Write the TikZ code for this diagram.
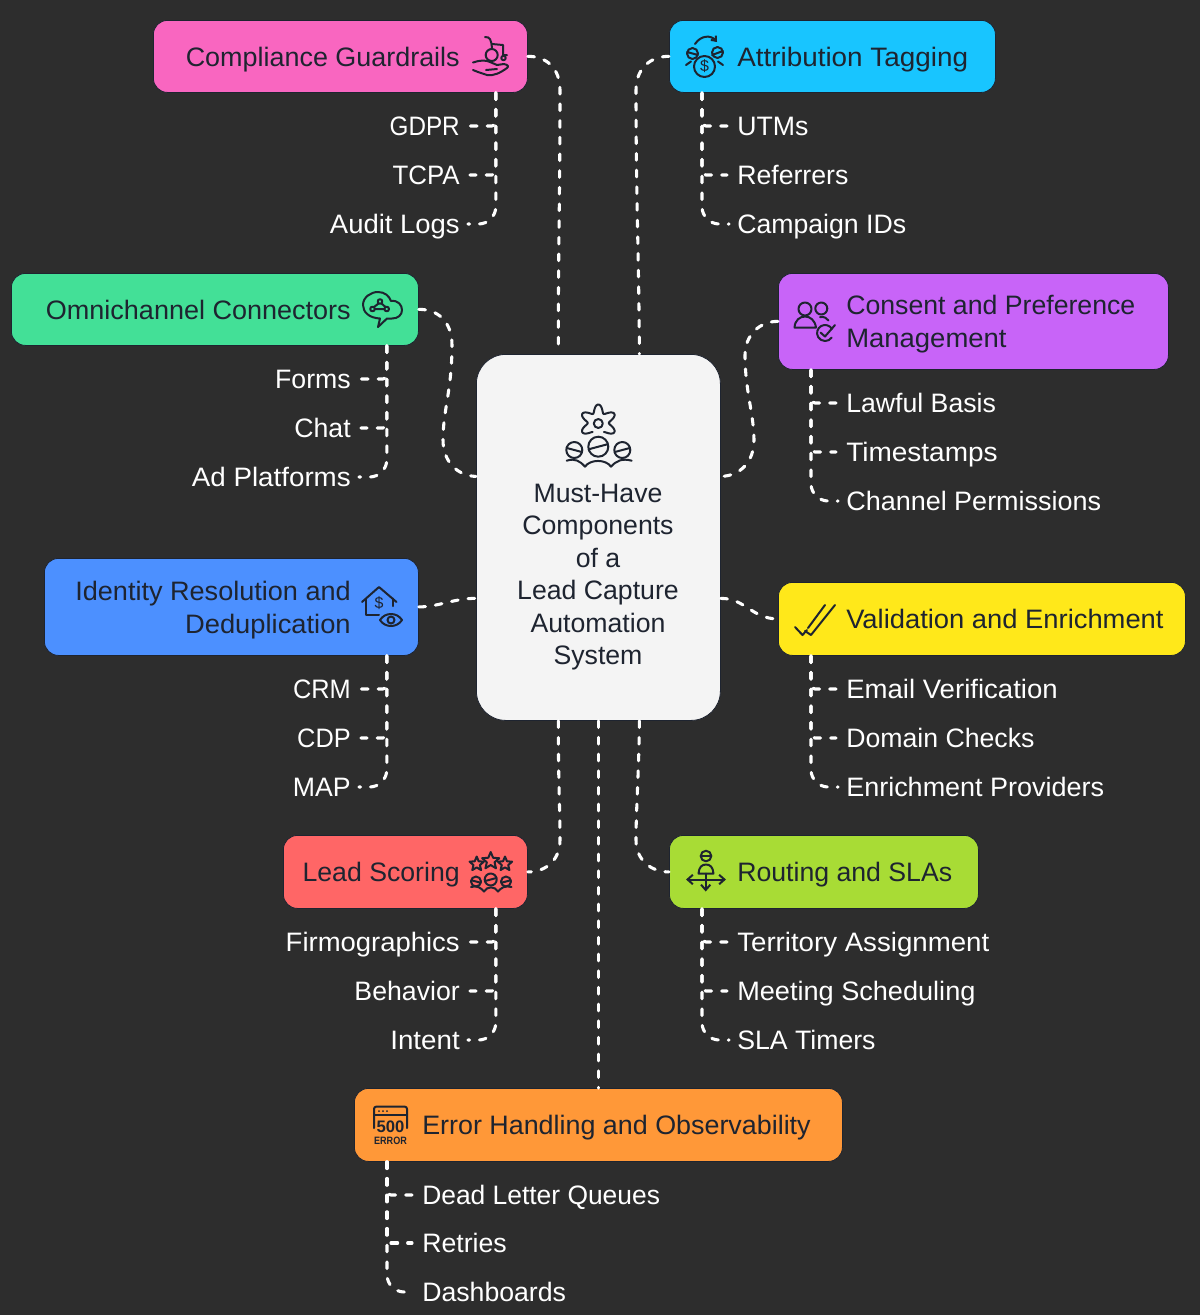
\documentclass[tikz,border=0pt]{standalone}
\usepackage{graphicx}
\usepackage{fontspec}
\setmainfont{Liberation Sans}
\usetikzlibrary{calc,arrows.meta}
\definecolor{bgc}{HTML}{2D2D2D}
\definecolor{inkc}{HTML}{1E2430}
\definecolor{cgc}{HTML}{F966C0}
\definecolor{atc}{HTML}{18C5FF}
\definecolor{omc}{HTML}{43E097}
\definecolor{coc}{HTML}{C864F8}
\definecolor{idc}{HTML}{4C90FF}
\definecolor{vac}{HTML}{FFE81A}
\definecolor{lsc}{HTML}{FF6666}
\definecolor{roc}{HTML}{A8DC35}
\definecolor{erc}{HTML}{FF9838}
\definecolor{hubc}{HTML}{F4F4F4}
\tikzset{
  x=0.75pt,y=-0.75pt,
  boxst/.style={draw=inkc,line width=0.6pt,rounded corners=10.5pt,inner sep=0,anchor=north west},
  boxtxt/.style={inner sep=0,text=inkc,font=\fontsize{20}{24.4}\selectfont},
  onel/.style={boxtxt,text height=14.5pt,text depth=0pt},
  leaf/.style={inner sep=0,text=white,font=\fontsize{20}{24.4}\selectfont,text height=14.5pt,text depth=0pt},
  link/.style={draw=white,line width=2.3pt,line cap=round,dash pattern=on 5pt off 7.5pt},
  near/.style={link,rounded corners=3pt,shorten >=7.5pt},
  far/.style={link,rounded corners=13pt,shorten >=6pt},
  ic/.style={draw=inkc,line width=1.5pt,line cap=round,line join=round},
}
\newcommand{\sx}[2]{\scalebox{#1}[1]{#2}}
\newcommand{\mybox}[6]{\node[boxst,fill=#2,minimum width=#5*0.75pt-#3*0.75pt,minimum height=#6*0.75pt-#4*0.75pt] (#1) at (#3,#4) {};}
\newcommand{\myhead}[4]{%
  \draw[ic] (#1,#2) circle[radius=#3];
  \draw[ic] ($(#1,#2)+(180+#4:#3)$) -- ($(#1,#2)+(#4:#3)$);}
\newcommand{\mystar}[3]{%
  \draw[ic] plot[samples at={0,...,10}] ({#1+(mod(\x,2)==0?#3:#3*0.45)*sin(\x*36)},{#2-(mod(\x,2)==0?#3:#3*0.45)*cos(\x*36)});}
\begin{document}
\begin{tikzpicture}
\useasboundingbox (0,0) rectangle (1200,1315);
\fill[bgc] (0,0) rectangle (1200,1315);

% boxes
\mybox{cg}{cgc}{153}{20}{527}{92}
\mybox{at}{atc}{669}{20}{995}{92}
\mybox{om}{omc}{11}{273}{418}{345}
\mybox{co}{coc}{778}{273}{1168}{369}
\mybox{idr}{idc}{44}{558}{418}{655}
\mybox{va}{vac}{778}{582}{1185}{655}
\mybox{ls}{lsc}{283}{835}{527}{908}
\mybox{ro}{roc}{669}{835}{978}{908}
\mybox{er}{erc}{354}{1088}{842}{1161}
\node[draw=inkc,line width=0.6pt,fill=hubc,rounded corners=22pt,inner sep=0,anchor=north west,minimum width=183pt,minimum height=274.5pt] (hub) at (476,354) {};

% box texts
\node[onel,anchor=east] (tcg) at (460,56.5) {\sx{1.01}{Compliance Guardrails}};
\node[onel,anchor=west] (tat) at (737,56.5) {\sx{1.045}{Attribution Tagging}};
\node[onel,anchor=east] (tom) at (351,309.5) {\sx{1.013}{Omnichannel Connectors}};
\node[boxtxt,anchor=west,align=left] (tco) at (846,324) {Consent and Preference\\\sx{1.03}{Management}};
\node[boxtxt,anchor=east,align=right] (tid) at (351,610) {\sx{1.015}{Identity Resolution and}\\\sx{1.025}{Deduplication}};
\node[onel,anchor=west] (tva) at (846,619) {\sx{1.026}{Validation and Enrichment}};
\node[onel,anchor=east] (tls) at (460,872) {Lead Scoring};
\node[onel,anchor=west] (tro) at (737,872) {Routing and SLAs};
\node[onel,anchor=west] (ter) at (422,1125) {\sx{1.008}{Error Handling and Observability}};
\node[boxtxt,align=center] (thub) at (598,577) {Must-Have\\Components\\of a\\Lead Capture\\Automation\\System};

% leaves
\node[leaf,anchor=east] (l1a) at (460,126) {\sx{0.91}{GDPR}};
\node[leaf,anchor=east] (l1b) at (460,175) {\sx{0.97}{TCPA}};
\node[leaf,anchor=east] (l1c) at (460,224) {\sx{1.03}{Audit Logs}};
\node[leaf,anchor=west] (l2a) at (737,126) {UTMs};
\node[leaf,anchor=west] (l2b) at (737,175) {Referrers};
\node[leaf,anchor=west] (l2c) at (737,224) {Campaign IDs};
\node[leaf,anchor=east] (l3a) at (351,379) {Forms};
\node[leaf,anchor=east] (l3b) at (351,428) {Chat};
\node[leaf,anchor=east] (l3c) at (351,477) {\sx{1.04}{Ad Platforms}};
\node[leaf,anchor=west] (l4a) at (846,403) {Lawful Basis};
\node[leaf,anchor=west] (l4b) at (846,452) {\sx{1.05}{Timestamps}};
\node[leaf,anchor=west] (l4c) at (846,501) {\sx{1.012}{Channel Permissions}};
\node[leaf,anchor=east] (l5a) at (351,689) {\sx{0.95}{CRM}};
\node[leaf,anchor=east] (l5b) at (351,738) {\sx{0.95}{CDP}};
\node[leaf,anchor=east] (l5c) at (351,787) {MAP};
\node[leaf,anchor=west] (l6a) at (846,689) {\sx{1.034}{Email Verification}};
\node[leaf,anchor=west] (l6b) at (846,738) {Domain Checks};
\node[leaf,anchor=west] (l6c) at (846,787) {\sx{1.012}{Enrichment Providers}};
\node[leaf,anchor=east] (l7a) at (460,942) {\sx{1.03}{Firmographics}};
\node[leaf,anchor=east] (l7b) at (460,991) {Behavior};
\node[leaf,anchor=east] (l7c) at (460,1040) {\sx{1.04}{Intent}};
\node[leaf,anchor=west] (l8a) at (737,942) {\sx{1.037}{Territory Assignment}};
\node[leaf,anchor=west] (l8b) at (737,991) {\sx{1.017}{Meeting Scheduling}};
\node[leaf,anchor=west] (l8c) at (737,1040) {SLA Timers};
\node[leaf,anchor=west] (l9a) at (422,1195) {\sx{0.99}{Dead Letter Queues}};
\node[leaf,anchor=west] (l9b) at (422,1243) {Retries};
\node[leaf,anchor=west] (l9c) at (422,1292) {Dashboards};

% hub connectors
\draw[link] (cg.east) .. controls (546,56) and (560,68) .. (560,90) .. controls (560,200) and (558,260) .. ($(hub.north)+(-40,0)$);
\draw[link] (at.west) .. controls (651,56) and (636,68) .. (636,90) .. controls (636,200) and (639,260) .. ($(hub.north)+(41,0)$);
\draw[link] (om.east) .. controls (438,309) and (452,322) .. (452,345) .. controls (452,390) and (443,410) .. (443,440) .. controls (443,462) and (458,476) .. ($(hub.west)+(0,-61)$);
\draw[link] (co.west) .. controls (760,321) and (745,335) .. (745,355) .. controls (745,390) and (754,415) .. (754,440) .. controls (754,462) and (740,476) .. ($(hub.east)+(0,-61)$);
\draw[link] (idr.east) .. controls (438,607) and (455,598) .. ($(hub.west)+(0,61)$);
\draw[link] ($(hub.east)+(0,61)$) .. controls (745,598) and (752,619) .. (va.west);
\draw[link] ($(hub.south)+(-40,0)$) .. controls (558,770) and (560,810) .. (560,840) .. controls (560,860) and (546,872) .. (ls.east);
\draw[link] ($(hub.south)+(41,0)$) .. controls (639,770) and (636,810) .. (636,840) .. controls (636,860) and (651,872) .. (ro.west);
\draw[link] (hub.south) -- (er.north);

% leaf connectors
\foreach \b/\s/\dx/\kids in {cg/south east/-32/l1, ls/south east/-32/l7, om/south east/-32/l3, idr/south east/-32/l5}{
  \draw[near] ($(\b.\s)+(\dx,0)$) |- (\kids a.east);
  \draw[near] ($(\b.\s)+(\dx,0)$) |- (\kids b.east);
  \draw[far] ($(\b.\s)+(\dx,0)$) |- (\kids c.east);
}
\foreach \b/\s/\dx/\kids in {at/south west/33/l2, co/south west/33/l4, va/south west/33/l6, ro/south west/33/l8, er/south west/33/l9}{
  \draw[near] ($(\b.\s)+(\dx,0)$) |- (\kids a.west);
  \draw[near] ($(\b.\s)+(\dx,0)$) |- (\kids b.west);
  \draw[far] ($(\b.\s)+(\dx,0)$) |- (\kids c.west);
}

% icon: compliance
\draw[ic] (491.7,55) circle[radius=6];
\draw[ic] (485,37) .. controls (490,37) and (491,39) .. (492,48);
\draw[ic] (492,44) -- (503,45) -- (503,55) -- (507,55);
\draw[ic] (503.5,58) circle[radius=2.2];
\draw[ic] (473,62.5) .. controls (480,60) and (486,60) .. (490,62) -- (497,65) -- (504,64) .. controls (508,65) and (509,66) .. (507,68) .. controls (500,73) and (494,76) .. (487,75) -- (478,72) -- (473,70);
\draw[ic] (486,70) -- (497,69);
% icon: attribution
\draw[ic] (704.5,66.5) circle[radius=10.5];
\node[inner sep=0,text=inkc,font=\fontsize{12}{12}\selectfont] (dol1) at (704.5,66.5) {\$};
\draw[ic] (692.5,53.5) circle[radius=5.5] (687,52) -- (698,55);
\draw[ic] (717.5,52.5) circle[radius=5.5] (712,55) -- (723,51);
\draw[ic,-{Straight Barb[length=3pt,width=5pt]}] (695,44) .. controls (701,35) and (711,35) .. (717,42);
\draw[ic] (686,65) -- (691,61.5) (723,65) -- (718,61.5);
% icon: omni
\draw[ic] (378,327) -- (380,318.5) .. controls (369,318) and (363,312) .. (363,305) .. controls (363,297) and (371,292) .. (378,292) .. controls (385,292) and (389,296) .. (391,301) .. controls (398,300) and (402,305) .. (402,310) .. controls (402,315) and (398,318.5) .. (392,318.5) -- (387,318.5) -- cycle;
\draw[ic] (380,301.5) circle[radius=2.3] (372.5,309) circle[radius=2.3] (386.7,309) circle[radius=2.3];
\draw[ic] (378.5,303.5) -- (374,307) (381.5,303.5) -- (385.5,307) (375,309) -- (384.3,309);
% icon: consent
\draw[ic] (805,309) circle[radius=6.5];
\draw[ic] (794.5,327.5) .. controls (795,320) and (800,316.5) .. (805,316.5) .. controls (810,316.5) and (815,320) .. (816,327.5) -- cycle;
\draw[ic] (821.3,308.5) circle[radius=6];
\draw[ic] (820,317) .. controls (824,316.5) and (827,318) .. (828.5,320.5);
\draw[ic] (832,329) arc[start angle=-30,end angle=-325,radius=8];
\draw[ic] (820.5,332.5) -- (825,336.5) -- (835,325);
% icon: identity
\draw[ic] (362,602) -- (379,587) -- (396.5,602);
\draw[ic] (365.5,599) -- (365.5,615) -- (379,615) (392.5,598.5) -- (392.5,606);
\node[inner sep=0,text=inkc,font=\fontsize{12}{12}\selectfont] (dol2) at (379,603) {\$};
\draw[ic] (380,620) .. controls (385,612) and (397,612) .. (402,620) .. controls (397,628) and (385,628) .. (380,620) -- cycle;
\draw[ic] (391,620) circle[radius=3.5];
% icon: validation
\draw[ic] (795,627) -- (802.5,635) -- (807,630);
\draw[ic] (808,628) -- (825,605);
\draw[ic] (805,631) -- (811,635) -- (835,605);
% icon: lead scoring
\mystar{490.7}{861}{9}
\mystar{476.7}{864}{7.5}
\mystar{505}{864}{7.5}
\myhead{490.7}{879.5}{6}{-15}
\myhead{476}{881.5}{5}{15}
\myhead{506}{881.5}{5}{-15}
\draw[ic] (471,887) .. controls (477,885) and (481,888) .. (484,891.5) .. controls (487,886) and (495,886) .. (498,891.5) .. controls (501,888) and (505,885) .. (511.5,887);
% icon: routing
\myhead{706}{856}{5.3}{0}
\draw[ic] (698.5,873.5) .. controls (699,867) and (702,864.5) .. (706,864.5) .. controls (710,864.5) and (713,867) .. (713.5,873.5) -- cycle;
\draw[ic,{Straight Barb[length=4pt,width=7pt]}-{Straight Barb[length=4pt,width=7pt]}] (686,879.5) -- (726,879.5);
\draw[ic,-{Straight Barb[length=4pt,width=7pt]}] (705.7,873.5) -- (705.7,891.5);
% icon: error
\draw[ic] (374,1128) -- (374,1109) .. controls (374,1107.5) and (375,1106.7) .. (376,1106.7) -- (405,1106.7) .. controls (406,1106.7) and (407,1107.5) .. (407,1109) -- (407,1128);
\draw[ic] (374,1115) -- (407,1115);
\fill[inkc] (379,1111) circle[radius=1] (383,1111) circle[radius=1] (387,1111) circle[radius=1];
\node[inner sep=0,text=inkc,font=\fontsize{12.5}{12.5}\bfseries\selectfont] (e500) at (390.5,1127) {500};
\node[inner sep=0,text=inkc,font=\fontsize{8}{8}\bfseries\selectfont] (eerr) at (390.5,1140.5) {\sx{0.85}{ERROR}};
% icon: hub
\draw[ic] plot[smooth,domain=-58:238,samples=80] ({598.3+(14.5+4*cos(6*(\x-90)))*cos(\x)},{423-(14.5+4*cos(6*(\x-90)))*sin(\x)});
\draw[ic] (598.3,423.5) circle[radius=4.5];
\myhead{598.3}{446.7}{10}{-15}
\myhead{574.3}{450}{8}{15}
\myhead{622.3}{450}{8}{-15}
\draw[ic] (566.7,460.7) .. controls (575,458) and (580,461) .. (585,466.7) .. controls (590,459) and (606,459) .. (611,466.7) .. controls (616,461) and (622,458) .. (631.7,460.7);
\end{tikzpicture}
\end{document}
